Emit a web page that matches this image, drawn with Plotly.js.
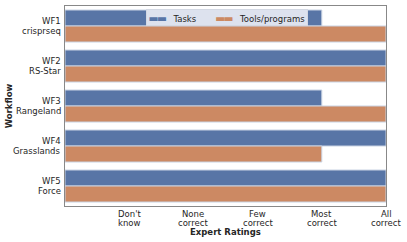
<!DOCTYPE html>
<html><head><meta charset="utf-8">
<script src="https://cdn.plot.ly/plotly-3.0.1.min.js"></script>
<style>html,body{margin:0;padding:0;background:#fff}</style>
</head><body>
<div id="chart" style="width:407px;height:242px"></div>
<script>
var workflowIds = ["WF1", "WF2", "WF3", "WF4", "WF5"];
var workflowNames = ["crisprseq", "RS-Star", "Rangeland", "Grasslands", "Force"];
var tasks = [4, 5, 4, 5, 5];
var tools = [5, 5, 5, 4, 5];
var seriesNames = ["Tasks", "Tools/programs"];
var seriesColors = ["#5875a6", "#cc8963"];
var ratingTicks = [1, 2, 3, 4, 5];
var ratingLine1 = ["Don't", "None", "Few", "Most", "All"];
var ratingLine2 = ["know", "correct", "correct", "correct", "correct"];

var font = "DejaVu Sans, sans-serif";
var txt = "#262626";
var edge = {color: "#c9d3e3", width: 1};
var workflows = workflowIds.map(function (id, i) { return id + " " + workflowNames[i]; });
var data = [
  {type: "bar", orientation: "h", name: seriesNames[0], y: workflows, x: tasks,
   marker: {color: seriesColors[0], line: edge}},
  {type: "bar", orientation: "h", name: seriesNames[1], y: workflows, x: tools,
   marker: {color: seriesColors[1], line: edge}}
];

function lab(o) {
  o.showarrow = false;
  o.font = {family: font, size: 8.5, color: txt};
  return o;
}
var annotations = [];
workflows.forEach(function (w, i) {
  annotations.push(lab({xref: "paper", yref: "y", x: 0, y: w, xanchor: "right", yanchor: "middle",
    xshift: -2, yshift: 5, text: workflowIds[i]}));
  annotations.push(lab({xref: "paper", yref: "y", x: 0, y: w, xanchor: "right", yanchor: "middle",
    xshift: -2, yshift: -5, text: workflowNames[i]}));
});
ratingTicks.forEach(function (v, i) {
  annotations.push(lab({xref: "x", yref: "paper", x: v, y: 0, xanchor: "center", yanchor: "middle",
    yshift: -7.5, text: ratingLine1[i]}));
  annotations.push(lab({xref: "x", yref: "paper", x: v, y: 0, xanchor: "center", yanchor: "middle",
    yshift: -16.5, text: ratingLine2[i]}));
});
var legendText = seriesNames.map(function (n, i) {
  return '<span style="color:' + seriesColors[i] + ';font-size:10.5px;letter-spacing:-1.5px">\u25AC\u25AC</span>   ' + n;
}).join("       ");
annotations.push({xref: "paper", yref: "paper", x: 0.505, y: 0.945, xanchor: "center", yanchor: "middle",
  text: legendText, showarrow: false, bgcolor: "#dde2ee", bordercolor: "#d3d8e3", borderwidth: 1,
  borderpad: 1.5, font: {family: font, size: 8.5, color: txt}});
annotations.push(lab({xref: "paper", yref: "paper", x: 0.5, y: -0.13, xanchor: "center", yanchor: "middle",
  text: "<b>Expert Ratings</b>"}));

var layout = {
  width: 407, height: 242,
  margin: {l: 65, r: 21, t: 6, b: 36},
  paper_bgcolor: "#fff", plot_bgcolor: "#fff",
  barmode: "group", bargap: 0.2, bargroupgap: 0,
  font: {family: font, size: 8.5, color: txt},
  showlegend: false,
  annotations: annotations,
  xaxis: {range: [0, 5], tickvals: ratingTicks, showticklabels: false,
    showgrid: false, zeroline: false, showline: true, mirror: true,
    linecolor: "#888", linewidth: 1, ticks: ""},
  yaxis: {type: "category", autorange: "reversed", showgrid: false, zeroline: false,
    showline: true, mirror: true, linecolor: "#888", linewidth: 1, ticks: "",
    showticklabels: false,
    title: {text: "<b>Workflow</b>", standoff: 50, font: {family: font, size: 8.5, color: txt}}}
};
Plotly.newPlot("chart", data, layout, {displayModeBar: false, staticPlot: true});
</script>
</body></html>
